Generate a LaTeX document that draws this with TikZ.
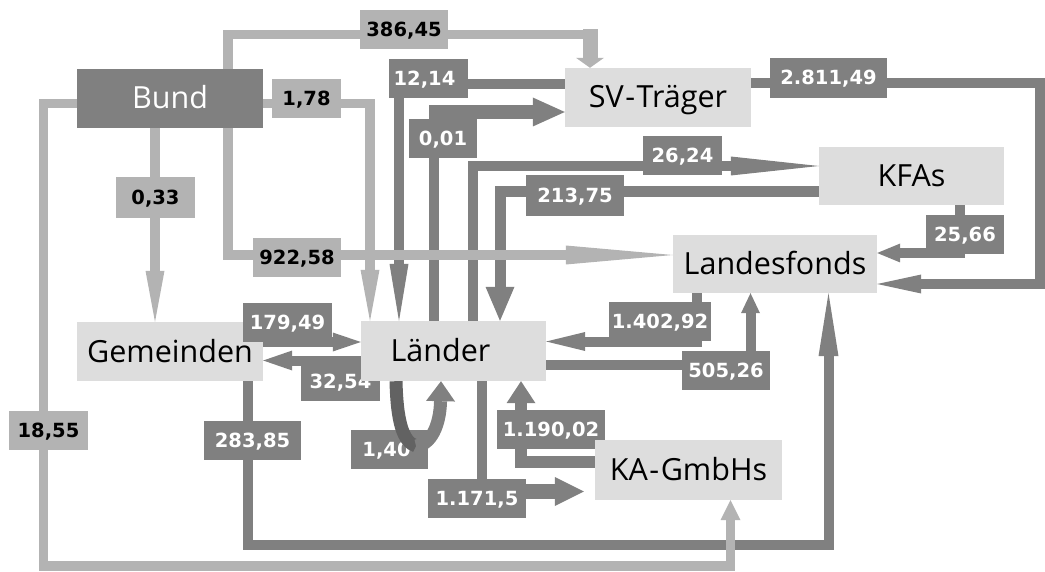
\documentclass[tikz,border=0pt]{standalone}
\usepackage{fontspec}
\usetikzlibrary{arrows.meta}
\newfontfamily\nodefont{Open Sans}
\newfontfamily\labfont{DejaVu Sans}
\definecolor{darkc}{HTML}{808080}
\definecolor{lightc}{HTML}{B3B3B3}
\definecolor{boxc}{HTML}{DDDDDD}
\definecolor{loopc}{HTML}{626262}
\pgfdeclarelayer{dfl}
\pgfdeclarelayer{lfl}
\pgfdeclarelayer{labs}
\pgfdeclarelayer{topl}
\pgfsetlayers{dfl,lfl,labs,main,topl}
\tikzset{
  nbox/.style={fill=boxc, minimum width=186bp, minimum height=59bp, inner sep=0pt,
    font=\nodefont\fontsize{30.5bp}{32bp}\selectfont, text height=21bp, text depth=0pt},
  flab/.style={minimum height=39bp, inner sep=0pt,
    font=\labfont\bfseries\fontsize{19.5bp}{21bp}\selectfont, text height=14bp, text depth=0pt},
  labL/.style={flab, fill=lightc, text=black},
  labD/.style={flab, fill=darkc, text=white},
  lflow/.style={draw=lightc, line width=9.5bp},
  dflow/.style={draw=darkc, line width=10bp},
  fhead/.style 2 args={-{Triangle[length=#1,width=#2,line width=0pt]}},
}
\begin{document}
\begin{tikzpicture}[x=1bp,y=-1bp]
\useasboundingbox (0,0) rectangle (1045,572);

% main boxes
\node[nbox, fill=darkc, text=white] (bund) at (170,98.5) {Bund};
\node[nbox] (sv) at (658,97.5) {SV\kern1.5bp-\kern1.5bpTräger};
\node[nbox, minimum width=185bp, minimum height=58bp] (kfa) at (911.5,176) {KFAs};
\node[nbox, minimum width=204bp, minimum height=58bp] (lf) at (775,264) {Landesfonds};
\node[nbox, minimum width=185bp, minimum height=60bp] (land) at (453.5,351) {Länder\hspace*{26bp}};
\node[nbox, minimum width=187bp, minimum height=60bp] (ka) at (688.5,470) {KA\kern1.5bp-\kern1.5bpGmbHs};

\begin{pgfonlayer}{labs}
\node[nbox] (gem) at (170,351.5) {Gemeinden};
\node[labL, minimum width=88bp] (l1) at (404,29.5) {386,45};
\node[labD, minimum width=79bp] (l2) at (428.5,79) {12,14\hspace*{8bp}};
\node[labL, minimum width=69bp] (l3) at (306.5,98.5) {1,78};
\node[labD, minimum width=68bp] (l4) at (443,138.5) {0,01};
\node[labL, minimum width=79bp, minimum height=41bp] (l5) at (155.5,197.5) {0,33};
\node[labL, minimum width=88bp] (l6) at (297,257.5) {922,58};
\node[labD, minimum width=117bp, minimum height=40bp] (l7) at (828.5,78) {2.811,49};
\node[labD, minimum width=79bp] (l8) at (682.5,156) {26,24};
\node[labD, minimum width=98bp, minimum height=41bp] (l9) at (575,195.5) {213,75};
\node[labD, minimum width=78bp] (l10) at (965,235) {25,66};
\node[labD, minimum width=89bp] (l11) at (287.5,322.5) {179,49};
\node[labD, minimum width=79bp] (l12) at (340.5,381.5) {32,54};
\node[labL, minimum width=79bp] (l13) at (48.5,430.5) {18,55};
\node[labD, minimum width=97bp] (l14) at (252.5,440.5) {283,85};
\node[labD, minimum width=77bp] (l15) at (389.5,449.5) {1,40\hspace*{6bp}};
\node[labD, minimum width=98bp] (l16) at (477,498.5) {1.171,5};
\node[labD, minimum width=102bp] (l17) at (660,321.5) {1.402,92};
\node[labD, minimum width=88bp] (l18) at (726,370.5) {505,26};
\node[labD, minimum width=108bp] (l19) at (551,429) {1.190,02};
\end{pgfonlayer}

\coordinate (k001) at (434,105);
\coordinate (h001) at (429,112);
\coordinate (k2811) at (1040,284);
\coordinate (k283) at (828.5,544.5);
\coordinate (k1171) at (482,485);
\coordinate (h1171) at (482,491.5);
\coordinate (k386) at (590,34.5);
\coordinate (t386) at (590,29.5);
\coordinate (k1855) at (43.5,566);
\coordinate (k140) at (416,446);

\begin{pgfonlayer}{dfl}
\draw[dflow, fhead={57bp}{19bp}] (sv.west |- 0,84) -| (land.north -| 399,0);
\draw[dflow] (land.north -| k001) -- (k001);
\draw[dflow, line width=14bp, fhead={32bp}{29bp}] (h001) -- (sv.west |- h001);
\draw[dflow, fhead={88bp}{19bp}] (land.north -| 473,0) |- (kfa.west |- 0,166);
\draw[dflow, line width=11bp, fhead={34bp}{29bp}] (kfa.west |- 0,192) -| (land.north -| 500,0);
\draw[dflow, fhead={44bp}{19bp}] (sv.east |- 0,83.5) -| (k2811) -- (lf.east |- k2811);
\draw[dflow, fhead={23bp}{19bp}] (kfa.south -| 960,0) |- (lf.east |- 0,253);
\draw[dflow, fhead={39bp}{19bp}] (lf.south -| 697,0) |- (land.east |- 0,341.5);
\draw[dflow, fhead={20bp}{19bp}] (land.east |- 0,365) -| (lf.south -| 750.5,0);
\draw[dflow, fhead={63bp}{20bp}] (gem.south -| 248,0) |- (k283) -- (lf.south -| k283);
\draw[dflow, fhead={28bp}{19bp}] (gem.east |- 0,342) -- (land.west |- 0,342);
\draw[dflow, fhead={29bp}{20bp}] (land.west |- 0,360.5) -- (gem.east |- 0,360.5);
\draw[dflow] (land.south -| k1171) -- (k1171);
\draw[dflow, line width=15bp, fhead={29bp}{29bp}, shorten >=11bp] (h1171) -- (ka.west |- h1171);
\draw[dflow, line width=12bp, fhead={22bp}{29bp}] (ka.west |- 0,462) -| (land.south -| 521,0);
\end{pgfonlayer}

\begin{pgfonlayer}{lfl}
\draw[lflow] (bund.north -| 228,0) |- (k386);
\draw[lflow, line width=15bp, fhead={10bp}{28bp}] (t386) -- (sv.north -| t386);
\draw[lflow, fhead={51bp}{19bp}] (bund.east |- 0,103.5) -| (land.north -| 370,0);
\draw[lflow, fhead={51bp}{19bp}] (bund.south -| 155,0) -- (gem.north -| 155,0);
\draw[lflow, fhead={107bp}{19bp}] (bund.south -| 228,0) |- (lf.west |- 0,255);
\draw[lflow, fhead={20bp}{20bp}] (bund.west |- 0,103.5) -| (k1855) -| (ka.south -| 730.5,0);
\end{pgfonlayer}

\begin{pgfonlayer}{topl}
\draw[line width=13bp, loopc] (land.south -| 396,0) .. controls (397,422) and (403,442) .. (k140);
\draw[line width=13bp, darkc, fhead={20bp}{29bp}] (k140) .. controls (431,445) and (440,425) .. (land.south -| 441,0);
\end{pgfonlayer}
\end{tikzpicture}
\end{document}
